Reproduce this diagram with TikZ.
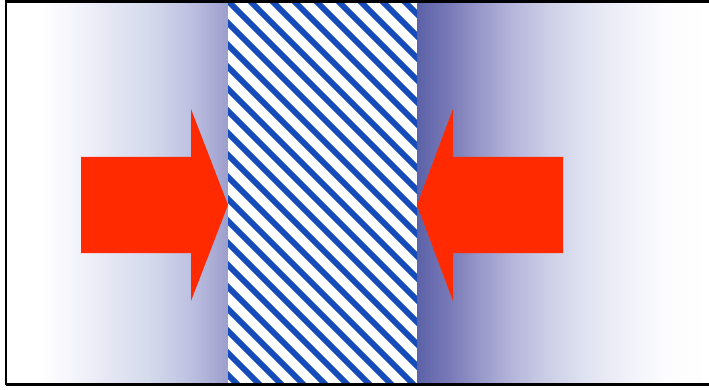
\documentclass[tikz,border=0pt]{standalone}
\begin{document}
\begin{tikzpicture}[x=1pt,y=-1pt,
  arrowfill/.style={fill=arrred,draw=none},
  stripe/.style={draw=stripeblue,line width=5.8pt},
  frame/.style={draw=black,line width=2.6pt}]
\definecolor{arrred}{RGB}{255,42,0}
\definecolor{stripeblue}{RGB}{22,76,186}
\definecolor{g0}{RGB}{255,255,255}
\definecolor{g1}{RGB}{246,246,252}
\definecolor{g2}{RGB}{228,230,243}
\definecolor{g3}{RGB}{212,218,236}
\definecolor{g4}{RGB}{190,192,225}
\definecolor{g5}{RGB}{156,158,204}
\definecolor{h0}{RGB}{92,98,168}
\definecolor{h1}{RGB}{122,122,184}
\definecolor{h2}{RGB}{152,152,202}
\definecolor{h3}{RGB}{180,180,218}
\definecolor{h4}{RGB}{203,205,230}
\definecolor{h5}{RGB}{224,227,241}
\definecolor{h6}{RGB}{240,241,248}
\definecolor{h7}{RGB}{252,252,254}
\useasboundingbox (0,0) rectangle (709,390);
\fill[white] (0,0) rectangle (709,390);
% left gradient
\fill[g0] (6,1) rectangle (40,385);
\shade[left color=g0,right color=g1] (39.5,1) rectangle (70.5,385);
\shade[left color=g1,right color=g2] (70,1) rectangle (110.5,385);
\shade[left color=g2,right color=g3] (110,1) rectangle (150.5,385);
\shade[left color=g3,right color=g4] (150,1) rectangle (190.5,385);
\shade[left color=g4,right color=g5] (190,1) rectangle (228.5,385);
% right gradient
\shade[left color=h0,right color=h1] (417,1) rectangle (450.5,385);
\shade[left color=h1,right color=h2] (450,1) rectangle (480.5,385);
\shade[left color=h2,right color=h3] (480,1) rectangle (510.5,385);
\shade[left color=h3,right color=h4] (510,1) rectangle (545.5,385);
\shade[left color=h4,right color=h5] (545,1) rectangle (585.5,385);
\shade[left color=h5,right color=h6] (585,1) rectangle (625.5,385);
\shade[left color=h6,right color=h7] (625,1) rectangle (665.5,385);
\shade[left color=h7,right color=g0] (665,1) rectangle (709,385);
% hatched band
\node[fill=white,draw=none,inner sep=0,minimum width=189pt,minimum height=384pt,anchor=north west] (band) at (228,1) {};
\begin{scope}
\clip (228,1) rectangle (417,385);
\foreach \k in {-20,...,9} {
  \draw[stripe] ({249+22*\k},0) -- ({249+22*\k+420},420);
}
\end{scope}
% arrows
\fill[arrowfill] (81,157) -- (191,157) -- (191,109) -- (228,205) -- (191,301) -- (191,253) -- (81,253) -- cycle;
\fill[arrowfill] (563,157) -- (453,157) -- (453,109) -- (417,205) -- (453,301) -- (453,253) -- (563,253) -- cycle;
% frame
\draw[frame] (6,385) -- (6,1.3) -- (709,1.3);
\draw[frame] (6,384.5) -- (709,384.5);
\end{tikzpicture}
\end{document}
